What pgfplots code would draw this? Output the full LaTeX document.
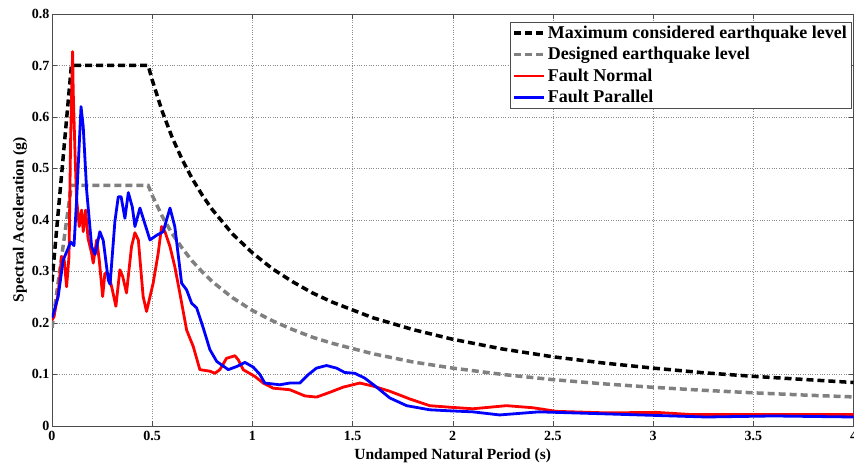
\documentclass[border=0pt]{standalone}
\usepackage{pgfplots}
\pgfplotsset{compat=1.18}
\usepackage{fontspec}
\setmainfont{Liberation Serif}

\definecolor{mcegray}{RGB}{128,128,128}

\begin{document}
\begin{tikzpicture}
\begin{axis}[
    scale only axis,
    width=802pt, height=412pt,
    xmin=0, xmax=4, ymin=0, ymax=0.8,
    xtick={0,0.5,...,4}, ytick={0,0.1,...,0.8},
    xticklabels={0,0.5,1,1.5,2,2.5,3,3.5,4},
    yticklabels={0,0.1,0.2,0.3,0.4,0.5,0.6,0.7,0.8},
    tick align=inside, major tick length=5pt,
    tick style={black!70, thin},
    axis line style={black!70, thin},
    grid=major,
    major grid style={black!45, dotted, thin},
    /pgf/number format/assume math mode=true,
    ticklabel style={font=\bfseries\fontsize{14}{14}\selectfont},
    xticklabel style={yshift=-2pt},
    yticklabel style={xshift=1pt},
    xlabel={Undamped Natural Period (s)},
    ylabel={Spectral Acceleration (g)},
    label style={font=\bfseries\fontsize{15.5}{16}\selectfont},
    xlabel style={yshift=-1pt},
    ylabel style={yshift=-2pt},
    legend cell align=left,
    legend style={at={(rel axis cs:0.997,0.981)}, anchor=north east,
        draw=black!70, thin, inner sep=2pt, row sep=3.5pt,
        font=\bfseries\fontsize{18}{20}\selectfont},
    legend image code/.code={\draw[#1] plot coordinates {(0pt,0pt) (15pt,0pt) (30pt,0pt)};},
]
\addplot[black, line width=3.5pt, dash pattern=on 7pt off 4pt] coordinates {
(0,0.28) (0.097,0.7) (0.48,0.7) (0.5,0.672) (0.55,0.611) (0.6,0.56) (0.65,0.517)
(0.7,0.48) (0.75,0.448) (0.8,0.42) (0.9,0.373) (1.0,0.336) (1.1,0.305) (1.2,0.28)
(1.3,0.258) (1.4,0.24) (1.6,0.21) (1.8,0.187) (2.0,0.168) (2.25,0.149) (2.5,0.134)
(2.75,0.122) (3.0,0.112) (3.25,0.103) (3.5,0.096) (3.75,0.090) (4.0,0.084)};
\addlegendentry{Maximum considered earthquake level}
\addplot[mcegray, line width=3.5pt, dash pattern=on 7pt off 4pt] coordinates {
(0,0.19) (0.097,0.467) (0.48,0.467) (0.5,0.448) (0.55,0.407) (0.6,0.373) (0.65,0.345)
(0.7,0.32) (0.75,0.299) (0.8,0.28) (0.9,0.249) (1.0,0.224) (1.1,0.204) (1.2,0.187)
(1.3,0.172) (1.4,0.16) (1.6,0.14) (1.8,0.124) (2.0,0.112) (2.25,0.0996) (2.5,0.0896)
(2.75,0.0815) (3.0,0.0747) (3.25,0.0689) (3.5,0.064) (3.75,0.0597) (4.0,0.056)};
\addlegendentry{Designed earthquake level}
\addplot[red, line width=2.8pt, line join=round] coordinates {
(0,0.205) (0.01,0.212) (0.031,0.257) (0.048,0.329) (0.061,0.322) (0.073,0.27)
(0.085,0.329) (0.093,0.555) (0.103,0.727) (0.106,0.65) (0.115,0.53) (0.123,0.44)
(0.136,0.387) (0.148,0.419) (0.156,0.377) (0.168,0.419) (0.18,0.364) (0.198,0.335)
(0.206,0.316) (0.223,0.361) (0.236,0.322) (0.253,0.251) (0.264,0.296) (0.281,0.296)
(0.298,0.27) (0.319,0.232) (0.339,0.303) (0.353,0.29) (0.372,0.258) (0.397,0.348)
(0.414,0.375) (0.431,0.361) (0.455,0.251) (0.472,0.222) (0.505,0.277) (0.53,0.335)
(0.547,0.387) (0.564,0.377) (0.589,0.348) (0.613,0.309) (0.638,0.258) (0.672,0.186)
(0.705,0.154) (0.738,0.109) (0.788,0.106) (0.813,0.102) (0.838,0.109) (0.871,0.131)
(0.913,0.136) (0.93,0.128) (0.954,0.109) (1.012,0.096) (1.054,0.083) (1.104,0.073)
(1.187,0.07) (1.262,0.058) (1.32,0.0557) (1.387,0.065) (1.453,0.075) (1.536,0.083)
(1.603,0.077) (1.686,0.067) (1.786,0.052) (1.885,0.039) (1.985,0.036) (2.1,0.033)
(2.268,0.039) (2.4,0.035) (2.517,0.028) (2.77,0.025) (3.016,0.026) (3.18,0.022)
(3.43,0.022) (4.0,0.022)};
\addlegendentry{Fault Normal}
\addplot[blue, line width=2.8pt, line join=round] coordinates {
(0,0.21) (0.007,0.218) (0.031,0.251) (0.056,0.322) (0.081,0.345) (0.093,0.357)
(0.11,0.35) (0.123,0.439) (0.145,0.62) (0.156,0.581) (0.173,0.458) (0.198,0.348)
(0.215,0.333) (0.239,0.377) (0.256,0.36) (0.281,0.283) (0.29,0.275) (0.314,0.397)
(0.331,0.445) (0.345,0.445) (0.364,0.403) (0.381,0.453) (0.401,0.425) (0.414,0.387)
(0.439,0.423) (0.489,0.361) (0.522,0.37) (0.555,0.377) (0.589,0.423) (0.613,0.387)
(0.647,0.277) (0.672,0.264) (0.697,0.238) (0.722,0.229) (0.755,0.19) (0.788,0.148)
(0.822,0.125) (0.88,0.109) (0.921,0.115) (0.963,0.123) (1.004,0.114) (1.037,0.1)
(1.062,0.083) (1.137,0.0796) (1.187,0.083) (1.237,0.083) (1.278,0.099) (1.32,0.112)
(1.37,0.117) (1.42,0.112) (1.461,0.1035) (1.511,0.102) (1.561,0.0925) (1.62,0.075)
(1.686,0.054) (1.77,0.039) (1.885,0.031) (1.985,0.029) (2.1,0.027) (2.234,0.021)
(2.43,0.027) (2.6,0.025) (2.77,0.023) (3.016,0.02) (3.265,0.017) (3.6,0.019) (4.0,0.017)};
\addlegendentry{Fault Parallel}
\coordinate (bbsw) at (rel axis cs:0,0);
\coordinate (bbne) at (rel axis cs:1,1);
\end{axis}
\pgfresetboundingbox
\path[use as bounding box] ([shift={(-52pt,-42pt)}]bbsw) rectangle ([shift={(0.5pt,14pt)}]bbne);
\end{tikzpicture}
\end{document}
